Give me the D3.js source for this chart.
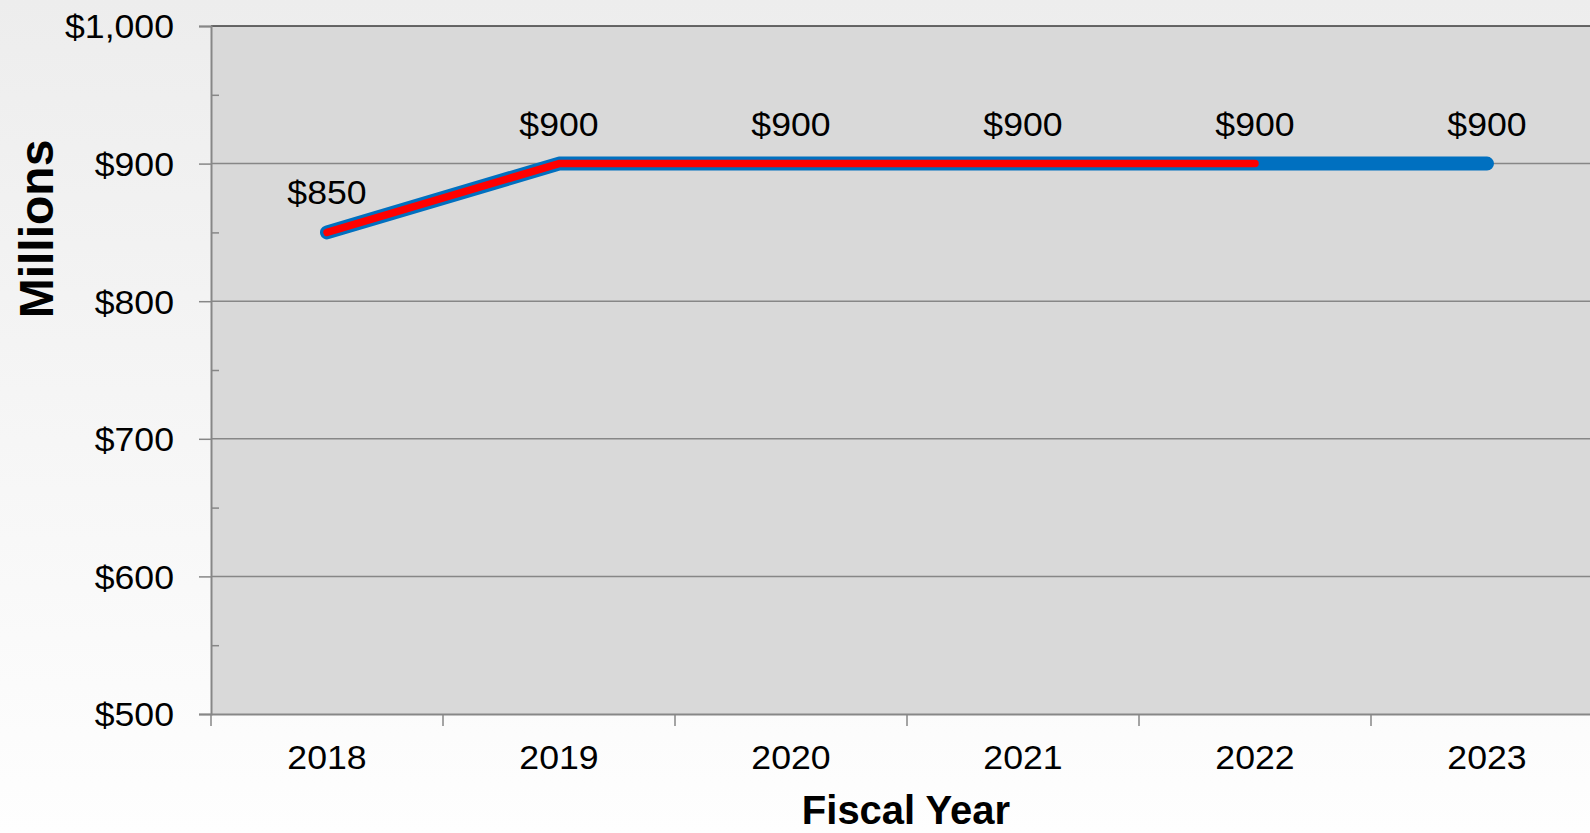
<!DOCTYPE html>
<html><head><meta charset="utf-8">
<script src="https://cdn.jsdelivr.net/npm/d3@7/dist/d3.min.js"></script>
<style>
html,body{margin:0;padding:0;overflow:hidden;background:#fff;}
text{font-family:"Liberation Sans",Arial,sans-serif;fill:#000;}
</style></head>
<body><svg id="chart" width="1590" height="833"></svg>
<script>
const years = ["2018","2019","2020","2021","2022","2023"];
const blueValues = [850, 900, 900, 900, 900, 900];
const redValues = [850, 900, 900, 900, 900];
const labelValues = [850, 900, 900, 900, 900, 900];
const yTicks = [500, 600, 700, 800, 900, 1000];
const yMinorTicks = [550, 650, 750, 850, 950];

(function(){
const W = 1590, H = 833;
const svg = d3.select("#chart");
const defs = svg.append("defs");
const grad = defs.append("linearGradient").attr("id","bg").attr("x1",0).attr("y1",0).attr("x2",0).attr("y2",1);
grad.append("stop").attr("offset","0%").attr("stop-color","#ededed");
grad.append("stop").attr("offset","100%").attr("stop-color","#fefefe");
svg.append("rect").attr("width",W).attr("height",H).attr("fill","url(#bg)");

const pL = 211, pR = 1603, pT = 26, pB = 714;
const x = d3.scaleBand().domain(years).range([pL, pR]).padding(0);
const y = d3.scaleLinear().domain([500, 1000]).range([pB, pT]);
const SX = 1.08, FS = 33;

svg.append("rect").attr("x",pL).attr("y",pT).attr("width",pR-pL).attr("height",pB-pT).attr("fill","#d9d9d9");

// gridlines
svg.append("g").selectAll("line").data(yTicks.filter(d=>d>500 && d<1000)).join("line")
  .attr("x1",pL).attr("x2",pR).attr("y1",d=>y(d)).attr("y2",d=>y(d))
  .attr("stroke","#878787").attr("stroke-width",1.5);
// top border
svg.append("line").attr("x1",pL).attr("x2",pR).attr("y1",y(1000)).attr("y2",y(1000))
  .attr("stroke","#3a3a3a").attr("stroke-width",1.5);

// y axis
const yAxis = svg.append("g").attr("transform",`translate(${pL},0)`)
  .call(d3.axisLeft(y).tickValues(yTicks).tickSize(12).tickPadding(0).tickFormat(d=>"$"+d3.format(",")(d)));
yAxis.select(".domain").attr("stroke","#878787").attr("stroke-width",2);
yAxis.selectAll(".tick line").attr("stroke","#878787").attr("stroke-width",1.5);
yAxis.selectAll(".tick text").attr("font-size",FS).attr("font-family","Liberation Sans, Arial, sans-serif")
  .attr("x",null).attr("dy","0.36em").attr("transform",`translate(-37,0) scale(${SX},1)`);

const yMinor = svg.append("g").attr("transform",`translate(${pL},0)`)
  .call(d3.axisRight(y).tickValues(yMinorTicks).tickSize(8).tickFormat(""));
yMinor.select(".domain").remove();
yMinor.selectAll(".tick line").attr("stroke","#878787").attr("stroke-width",1.5);

// x axis
const xAxis = svg.append("g").attr("transform",`translate(0,${pB})`)
  .call(d3.axisBottom(x).tickSize(0).tickPadding(0));
xAxis.select(".domain").attr("stroke","#878787").attr("stroke-width",2);
xAxis.selectAll(".tick text").attr("font-size",FS).attr("font-family","Liberation Sans, Arial, sans-serif")
  .attr("y",null).attr("dy",null).attr("transform",`translate(0,55) scale(${SX},1)`);
svg.append("g").selectAll("line").data(years).join("line")
  .attr("x1",d=>x(d)).attr("x2",d=>x(d)).attr("y1",pB).attr("y2",pB+12)
  .attr("stroke","#878787").attr("stroke-width",1.5);

// lines
const cx = d => x(d) + x.bandwidth()/2;
const line = d3.line().x((d,i)=>cx(years[i])).y(d=>y(d));
svg.append("path").datum(blueValues).attr("d",line).attr("fill","none")
  .attr("stroke","#0070c0").attr("stroke-width",14).attr("stroke-linecap","round").attr("stroke-linejoin","round");
svg.append("path").datum(redValues).attr("d",line).attr("fill","none")
  .attr("stroke","#ff0000").attr("stroke-width",7.5).attr("stroke-linecap","round").attr("stroke-linejoin","round");

// data labels
svg.append("g").selectAll("text").data(labelValues).join("text")
  .attr("text-anchor","middle").attr("font-size",FS)
  .attr("transform",(d,i)=>`translate(${cx(years[i])},${y(d)-28}) scale(${SX},1)`)
  .text(d=>"$"+d);

// axis titles
svg.append("text").attr("text-anchor","middle").attr("font-size",40).attr("font-weight","bold")
  .attr("x",906).attr("y",824).text("Fiscal Year");
svg.append("text").attr("text-anchor","middle").attr("font-size",48).attr("font-weight","bold")
  .attr("transform","translate(53,229) rotate(-90)").text("Millions");
})();
</script></body></html>
